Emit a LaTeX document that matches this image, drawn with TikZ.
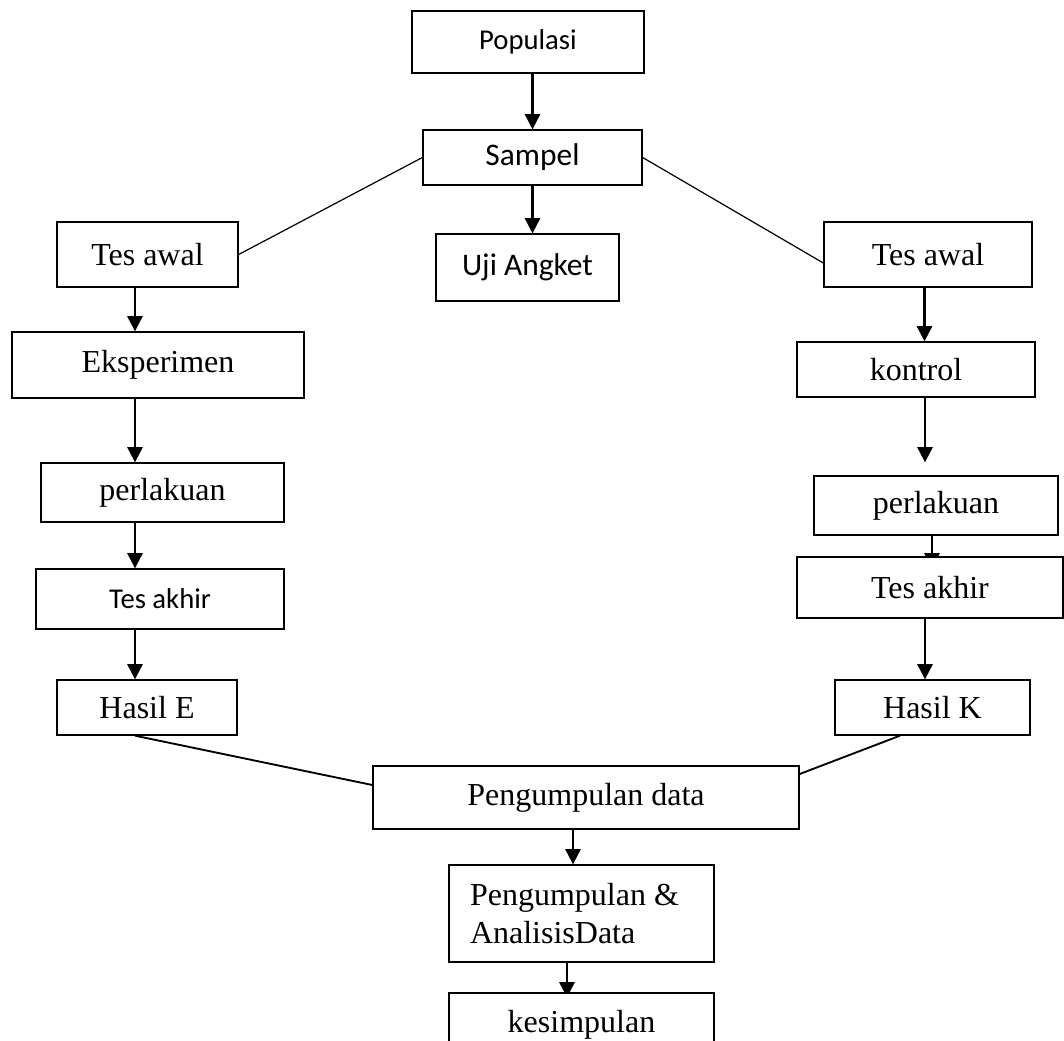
\documentclass[tikz,border=0pt]{standalone}
\usepackage{fontspec}
\setmainfont{Liberation Serif}
\newfontfamily\calfont{Carlito}
\usetikzlibrary{arrows.meta,calc,backgrounds}
\begin{document}
\begin{tikzpicture}[x=0.75pt,y=-0.75pt,
 box/.style 2 args={draw,line width=1pt,fill=white,inner sep=0pt,minimum width=#1*0.75pt,minimum height=#2*0.75pt},
 tnr/.style={font=\fontsize{24}{29}\selectfont},
 cbig/.style={font=\calfont\fontsize{23.6}{28}\selectfont},
 csmall/.style={font=\calfont\fontsize{21.5}{26}\selectfont},
 arr/.style={line width=1.6pt,-{Triangle[width=11.5pt,length=11.5pt]}},
 link/.style={line width=0.9pt},
 link2/.style={line width=1.4pt}]
\useasboundingbox (0,0) rectangle (1064,1040);

\node[box={232}{62},csmall] (pop) at (528,42) {Populasi};
\node[box={219}{55},cbig] (samp) at (532.5,157.5) {Sampel};
\node[box={183}{67},cbig] (uji) at (527.5,267.5) {Uji Angket};
\node[box={181}{65},tnr] (tawL) at (147.5,254.5) {Tes awal};
\node[box={292}{66},tnr] (eks) at (158,365) {Eksperimen};
\node[box={243}{59},tnr] (perL) at (162.5,492.5) {perlakuan};
\node[box={248}{60},csmall] (takL) at (160,599) {Tes akhir};
\node[box={180}{55},tnr] (hasE) at (147,707.5) {Hasil E};
\node[box={208}{65},tnr] (tawR) at (928,254.5) {Tes awal};
\node[box={238}{55},tnr] (kon) at (916,369.5) {kontrol};
\node[box={244}{59},tnr] (perR) at (936,505.5) {perlakuan};
\node[box={266}{61},tnr] (takR) at (930,587.5) {Tes akhir};
\node[box={195}{55},tnr] (hasK) at (932.5,707.5) {Hasil K};
\node[box={426}{63},tnr] (pd) at (586,797.5) {Pengumpulan data};
\node[draw,line width=1pt,fill=white,inner xsep=15.75pt,inner ysep=0pt,text width=167.25pt,align=flush left,minimum height=72.75pt,tnr] (pad) at (581.5,913.5) {Pengumpulan \&\\AnalisisData};
\node[box={265}{63},tnr] (kes) at (581.5,1024.5) {kesimpulan};

\coordinate (t1) at (932,0 |- takR.north);
\coordinate (k1) at (567,0 |- kes.north);

\begin{scope}[on background layer]
\draw[arr] (samp.north |- pop.south) -- (samp.north);
\draw[arr] (samp.south) -- (samp.south |- uji.north);
\draw[arr] (135,0 |- tawL.south) -- (135,0 |- eks.north);
\draw[arr] (135,0 |- eks.south) -- (135,0 |- perL.north);
\draw[arr] (135,0 |- perL.south) -- (135,0 |- takL.north);
\draw[arr] (135,0 |- takL.south) -- (135,0 |- hasE.north);
\draw[arr] (924.5,0 |- tawR.south) -- (924.5,0 |- kon.north);
\draw[arr,shorten >=9.75pt] (925,0 |- kon.south) -- (925,0 |- perR.north);
\draw[arr] (932,0 |- perR.south) -- ($(t1)+(0,12)$);
\draw[arr] (925,0 |- takR.south) -- (925,0 |- hasK.north);
\draw[arr] (573,0 |- pd.south) -- (573,0 |- pad.north);
\draw[arr] (567,0 |- pad.south) -- ($(k1)+(0,5)$);
\draw[link] (samp.west) -- (tawL.east);
\draw[link] (samp.east) -- ($(tawR.west)+(0,8.5)$);
\draw[link2] ($(hasE.south)+(-12,0)$) -- ($(pd.west)+(0,-12.5)$);
\draw[link2] ($(hasK.south)+(-32.5,0)$) -- ($(pd.east)+(0,-23.5)$);
\end{scope}
\end{tikzpicture}
\end{document}
